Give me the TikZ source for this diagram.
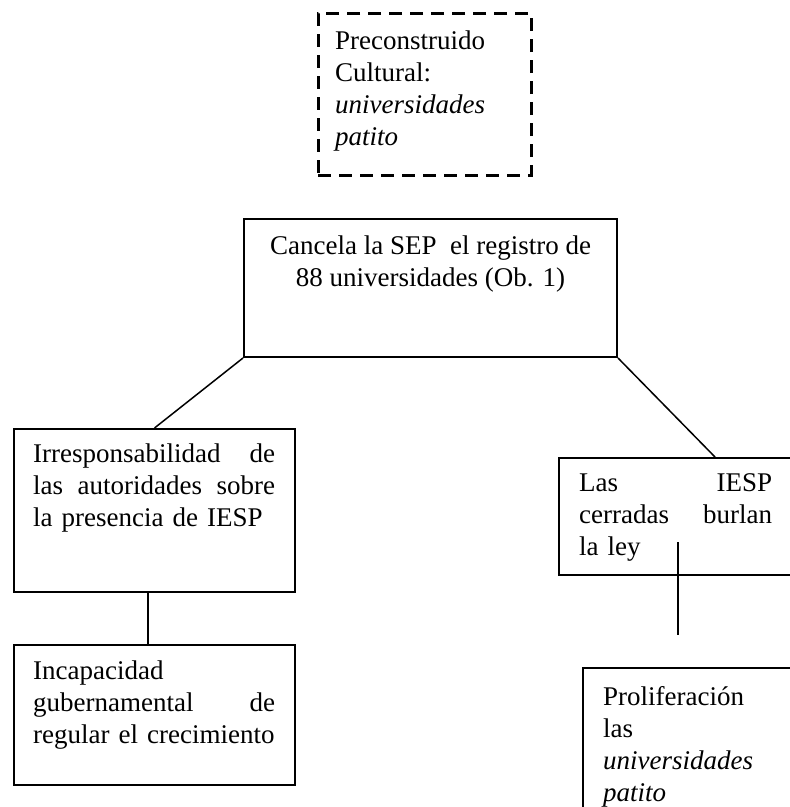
\documentclass[tikz,border=0pt]{standalone}
\usepackage{fontspec}
\setmainfont{Liberation Serif}
\usepackage{tikz}

\tikzset{
  caja/.style={draw, line width=2pt, inner sep=0pt},
  texto/.style={anchor=north west, inner sep=0pt, align=left,
    font=\fontsize{27}{32}\selectfont,
    execute at begin node={\setlength{\baselineskip}{32pt}}},
  liga/.style={line width=1.5pt}
}

\begin{document}
\begin{tikzpicture}[x=1pt,y=1pt,yscale=-1,xscale=1]
%set diagram left start at 0, and has height of 807
\useasboundingbox (0,0) rectangle (790,807);
\clip (0,0) rectangle (790,807);

%Shape: Rectangle [dashed]
\node [caja, line width=3pt, dash pattern=on 13pt off 8pt, minimum width=213pt, minimum height=162pt] (precon) at (424.5,94) {};
%Shape: Rectangle
\node [caja, minimum width=373pt, minimum height=138pt] (cancela) at (430.5,288) {};
%Shape: Rectangle
\node [caja, minimum width=281pt, minimum height=163pt] (irres) at (154.5,510.5) {};
%Shape: Rectangle
\node [caja, minimum width=281pt, minimum height=140pt] (incap) at (154.5,715) {};
%Shape: Rectangle
\node [caja, minimum width=234pt, minimum height=117pt] (burlan) at (676,516.5) {};
%Shape: Rectangle
\node [caja, minimum width=217pt, minimum height=172pt] (prolif) at (691.5,754) {};

%Straight Lines
\draw [liga] (cancela.south west) -- (irres.north) ;
%Straight Lines
\draw [liga] (cancela.south east) -- ([xshift=39pt]burlan.north) ;
%Straight Lines
\draw [liga] ([xshift=-6.5pt]irres.south) -- ([xshift=-6.5pt]incap.north) ;
%Straight Lines
\coordinate (burlan-pie) at (678,542);
\coordinate (prolif-cabo) at (678,635);
\draw [liga] (burlan-pie) -- (prolif-cabo) ;

% Text Node
\node [texto] (precon-txt) at (335,31) {Preconstruido\\ Cultural:\\ \textit{universidades}\\ \textit{patito}};
% Text Node
\node [texto, anchor=north, align=center] (cancela-txt) at (430.5,236) {Cancela la SEP\ \ el registro de\\ 88 universidades (Ob. 1)};
% Text Node
\node [texto, text width=242pt] (irres-txt) at (33,444) {Irresponsabilidad \hfill de\\ las \hfill autoridades \hfill sobre\\ la presencia de IESP};
% Text Node
\node [texto, text width=242pt] (incap-txt) at (33,661) {Incapacidad\\ gubernamental \hfill de\\ regular el crecimiento};
% Text Node
\node [texto, text width=193pt] (burlan-txt) at (579,473) {Las \hfill IESP\\ cerradas \hfill burlan\\ la ley};
% Text Node
\node [texto] (prolif-txt) at (603,686) {Proliferación\\ las\\ \textit{universidades}\\ \textit{patito}};

\end{tikzpicture}
\end{document}
